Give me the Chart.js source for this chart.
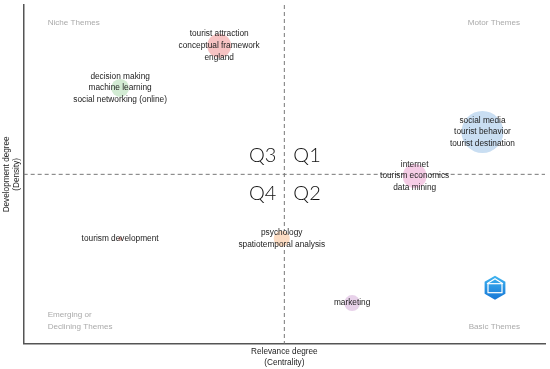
<!DOCTYPE html>
<html>
<head>
<meta charset="utf-8">
<script src="https://cdn.jsdelivr.net/npm/chart.js@4/dist/chart.umd.min.js"></script>
<style>
  html, body { margin: 0; padding: 0; background: #fff; }
  #wrap { width: 550px; height: 369px; }
</style>
</head>
<body>
<div id="wrap"><canvas id="map"></canvas></div>
<script>
// strategic map data: each cluster (theme group) with centrality / density
const themes = [
    ["tourist attraction", "conceptual framework", "england"],
    ["decision making", "machine learning", "social networking (online)"],
    ["social media", "tourist behavior", "tourist destination"],
    ["internet", "tourism economics", "data mining"],
    ["psychology", "spatiotemporal analysis"],
    ["tourism development"],
    ["marketing"]
];
const centrality = [-0.25, -0.63, 0.76, 0.50, -0.01, -0.63, 0.26];
const density = [0.76, 0.51, 0.25, -0.01, -0.38, -0.38, -0.76];
const clusterSize = [12, 9, 21, 12, 8, 2, 8];
const bubbleColors = ['#f7c3c3', '#d3ecd4', '#c9def2', '#f6cde6', '#fcdcc3', '#e0a8a0', '#e8d2ea'];

const quadrantNames = ["Niche Themes", "Motor Themes", "Emerging or\nDeclining Themes", "Basic Themes"];
const quadrantCodes = ["Q3", "Q1", "Q4", "Q2"];

const labelFont = '"Liberation Sans", Arial, sans-serif';

// dashed crosshair through the middle + quadrant texts + bubble labels
const mapDecor = {
    id: 'mapDecor',
    beforeDatasetsDraw(chart) {
        const ctx = chart.ctx;
        const a = chart.chartArea;
        const cx = chart.scales.x.getPixelForValue(0);
        const cy = chart.scales.y.getPixelForValue(0);
        ctx.save();
        ctx.strokeStyle = '#777';
        ctx.lineWidth = 1;
        ctx.setLineDash([4, 3]);
        ctx.beginPath();
        ctx.moveTo(cx, a.top);
        ctx.lineTo(cx, a.bottom);
        ctx.moveTo(a.left, cy);
        ctx.lineTo(a.right, cy);
        ctx.stroke();
        ctx.restore();
    },
    afterDatasetsDraw(chart) {
        const ctx = chart.ctx;
        const a = chart.chartArea;
        const cx = chart.scales.x.getPixelForValue(0);
        const cy = chart.scales.y.getPixelForValue(0);
        ctx.save();

        // bubble labels
        ctx.fillStyle = '#222';
        ctx.font = '8.3px ' + labelFont;
        ctx.textAlign = 'center';
        ctx.textBaseline = 'middle';
        const pts = chart.getDatasetMeta(0).data;
        pts.forEach((p, i) => {
            const lines = themes[i];
            const lh = 11.7;
            const y0 = p.y - (lines.length - 1) * lh / 2;
            lines.forEach((t, j) => ctx.fillText(t, p.x, y0 + j * lh));
        });

        // quadrant names
        ctx.fillStyle = '#aaa';
        ctx.font = '8.1px ' + labelFont;
        ctx.textAlign = 'left';
        ctx.fillText(quadrantNames[0], a.left + 24, a.top + 18);
        const em = quadrantNames[2].split('\n');
        ctx.fillText(em[0], a.left + 24, a.bottom - 29);
        ctx.fillText(em[1], a.left + 24, a.bottom - 17);
        ctx.textAlign = 'right';
        ctx.fillText(quadrantNames[1], a.right - 25, a.top + 18);
        ctx.fillText(quadrantNames[3], a.right - 25, a.bottom - 17);

        // quadrant codes
        ctx.fillStyle = '#111';
        ctx.font = '300 20px Lato, "Open Sans", sans-serif';
        ctx.textAlign = 'right';
        ctx.fillText(quadrantCodes[0], cx - 8, cy - 19);
        ctx.fillText(quadrantCodes[2], cx - 8, cy + 19);
        ctx.textAlign = 'left';
        ctx.fillText(quadrantCodes[1], cx + 9, cy - 19);
        ctx.fillText(quadrantCodes[3], cx + 9, cy + 19);

        // small hexagon badge, bottom right
        const hx = a.right - 50, hy = a.bottom - 56, hr = 12;
        const g = ctx.createLinearGradient(hx, hy - hr, hx, hy + hr);
        g.addColorStop(0, '#3fb4f0');
        g.addColorStop(1, '#1676d6');
        ctx.beginPath();
        for (let k = 0; k < 6; k++) {
            const ang = Math.PI / 3 * k - Math.PI / 2;
            const px = hx + hr * Math.cos(ang), py = hy + hr * Math.sin(ang);
            k ? ctx.lineTo(px, py) : ctx.moveTo(px, py);
        }
        ctx.closePath();
        ctx.fillStyle = g;
        ctx.fill();
        ctx.strokeStyle = '#fff';
        ctx.lineWidth = 1.2;
        ctx.strokeRect(hx - 7, hy - 4, 14, 9);
        ctx.beginPath();
        ctx.moveTo(hx - 8, hy - 4);
        ctx.lineTo(hx, hy - 9);
        ctx.lineTo(hx + 8, hy - 4);
        ctx.stroke();
        ctx.restore();
    }
};

new Chart(document.getElementById('map'), {
    type: 'bubble',
    data: {
        datasets: [{
            data: centrality.map((c, i) => ({ x: c, y: density[i], r: clusterSize[i] })),
            backgroundColor: bubbleColors,
            borderWidth: 0,
            hoverRadius: 0
        }]
    },
    options: {
        responsive: true,
        maintainAspectRatio: false,
        animation: false,
        layout: { autoPadding: false, padding: { top: 5, right: 5, left: 2, bottom: 0 } },
        plugins: {
            legend: { display: false },
            tooltip: { enabled: false }
        },
        scales: {
            x: {
                min: -1, max: 1,
                grid: { display: false, drawTicks: false },
                ticks: { display: false },
                border: { display: true, color: '#555', width: 1.5 },
                title: {
                    display: true,
                    text: ['Relevance degree', '(Centrality)'],
                    color: '#222',
                    font: { family: labelFont, size: 8.2, lineHeight: 1.3 },
                    padding: { top: 3, bottom: 1 }
                }
            },
            y: {
                min: -1, max: 1,
                grid: { display: false, drawTicks: false },
                ticks: { display: false },
                border: { display: true, color: '#555', width: 1.5 },
                title: {
                    display: true,
                    text: ['Development degree', '(Density)'],
                    color: '#222',
                    font: { family: labelFont, size: 8.2, lineHeight: 1.2 },
                    padding: { top: 0, bottom: 2 }
                }
            }
        }
    },
    plugins: [mapDecor]
});
</script>
</body>
</html>
